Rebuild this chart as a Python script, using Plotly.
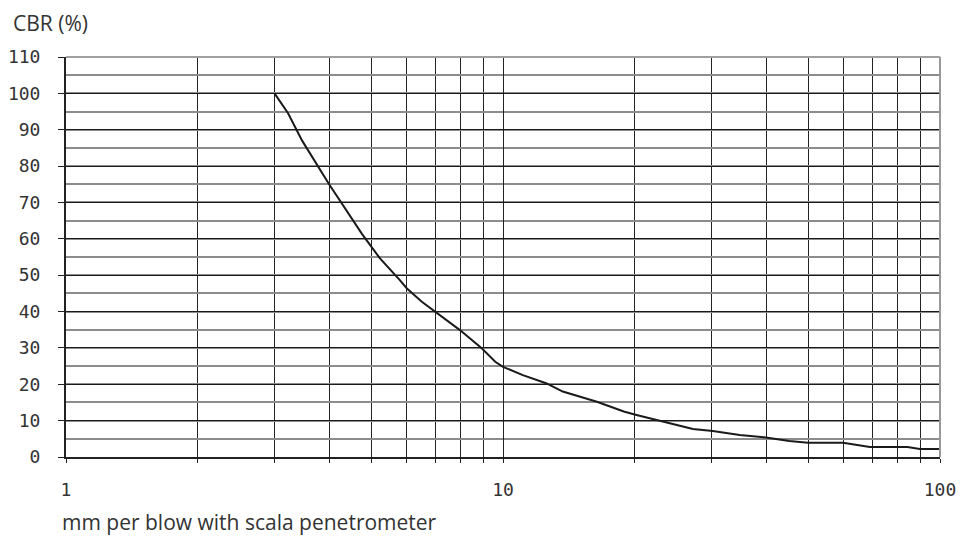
import plotly.graph_objects as go

# mm per blow (scala penetrometer) and CBR (%)
mm_per_blow = [3.0, 3.22, 3.47, 4.0, 4.76, 5.0, 5.23, 5.8, 6.02, 6.52, 7.0, 7.97, 8.94,
               9.6, 10.0, 11.1, 12.55, 13.7, 16.4, 18.9, 20.0, 22.9, 27.2, 30.2, 34.8,
               39.6, 45.2, 49.9, 60.0, 69.1, 84.3, 89.9, 100.0]
cbr = [100.0, 94.6, 87.0, 75.0, 61.3, 57.8, 54.6, 48.7, 46.4, 42.7, 40.0, 34.9, 29.9,
       26.2, 24.8, 22.5, 20.3, 18.0, 15.2, 12.5, 11.7, 10.0, 7.7, 7.15, 6.05,
       5.4, 4.4, 3.9, 3.9, 2.75, 2.75, 2.2, 2.2]

y_title = "CBR (%)"
x_title = "mm per blow with scala penetrometer"
y_ticks = [0, 10, 20, 30, 40, 50, 60, 70, 80, 90, 100, 110]
x_ticks = [1, 10, 100]

tick_font = dict(family="DejaVu Sans Mono", size=18, color="#333333")
text_font = dict(family="Open Sans", size=21, color="#333333")

fig = go.Figure()
fig.add_trace(go.Scatter(x=mm_per_blow, y=cbr, mode="lines",
                         line=dict(color="#1a1a1a", width=2), showlegend=False,
                         hoverinfo="skip"))

fig.update_layout(
    width=962, height=537,
    margin=dict(l=66, r=22, t=57, b=80, autoexpand=False),
    paper_bgcolor="white", plot_bgcolor="white",
    xaxis=dict(type="log", range=[0, 2], tickvals=x_ticks, ticktext=[str(v) for v in x_ticks],
               showgrid=True, gridcolor="#222222", gridwidth=1,
               ticks="outside", ticklen=4, tickcolor="#222222", tickwidth=1,
               ticklabelstandoff=11, tickfont=tick_font,
               showline=True, linecolor="#222222", linewidth=2,
               minor=dict(dtick="D1", showgrid=True, gridcolor="#222222", gridwidth=1,
                          ticks="outside", ticklen=4, tickcolor="#222222"),
               zeroline=False, fixedrange=True, automargin=False),
    yaxis=dict(range=[0, 110], tickvals=y_ticks,
               showgrid=True, gridcolor="#1a1a1a", gridwidth=1,
               ticks="outside", ticklen=6, tickcolor="#222222", tickwidth=1,
               ticklabelstandoff=14, tickfont=tick_font,
               showline=True, linecolor="#222222", linewidth=2,
               minor=dict(dtick=5, showgrid=True, gridcolor="#8c8c8c", gridwidth=2,
                          ticks=""),
               zeroline=False, fixedrange=True, automargin=False),
    annotations=[
        dict(text=y_title, xref="paper", yref="paper", x=0, y=1, xanchor="left",
             yanchor="middle", xshift=-55, yshift=34, showarrow=False, font=text_font),
        dict(text=x_title, xref="paper", yref="paper", x=0, y=0, xanchor="left",
             yanchor="middle", xshift=-6, yshift=-65, showarrow=False, font=text_font),
    ],
    shapes=[
        dict(type="line", xref="paper", yref="paper", x0=0, x1=1, y0=1, y1=1,
             line=dict(color="#a0a0a0", width=2)),
        dict(type="line", xref="paper", yref="paper", x0=1, x1=1, y0=0, y1=1,
             line=dict(color="#999999", width=2)),
    ],
)

fig.write_html("out.html")
